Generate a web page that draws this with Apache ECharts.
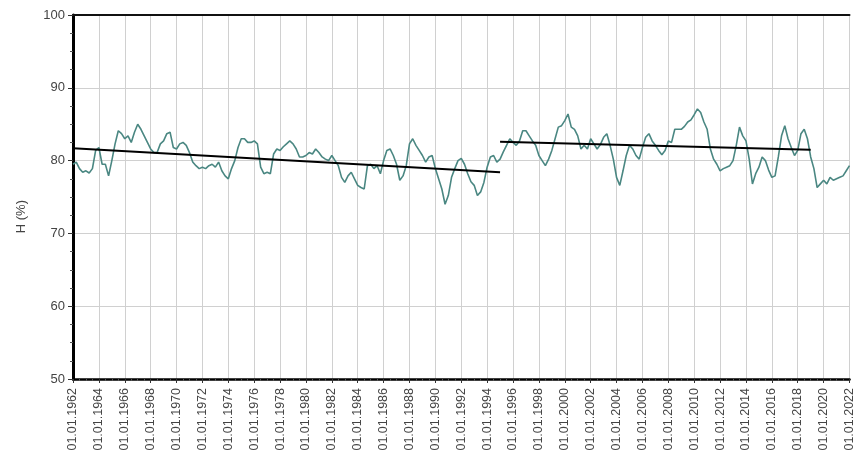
<!DOCTYPE html>
<html>
<head>
<meta charset="utf-8">
<script src="https://cdn.jsdelivr.net/npm/echarts@6/dist/echarts.min.js"></script>
<style>
  html, body { margin: 0; padding: 0; background: #fff; }
  #chart { width: 856px; height: 470px; }
</style>
</head>
<body>
<div id="chart"></div>
<script>
// Relative humidity H (%), 12-month moving average, one value per quarter from 01.01.1962
const startYear = 1962;
const stepYears = 0.25;
const humidity = [
  // 1962-1971
  79.5, 79.8, 78.9, 78.4, 78.6, 78.3, 78.9, 81.4, 81.8, 79.5, 79.5, 77.9,
  80.0, 82.3, 84.1, 83.7, 83.0, 83.4, 82.5, 83.9, 85.0, 84.3, 83.4, 82.5,
  81.6, 81.1, 81.1, 82.3, 82.7, 83.7, 83.9, 81.8, 81.6, 82.3, 82.5, 82.1,
  81.1, 79.8, 79.3, 78.9,
  // 1972-1981
  79.1, 78.9, 79.3, 79.5, 79.1, 79.8, 78.6, 77.9, 77.5, 78.9, 80.0, 81.8,
  83.0, 83.0, 82.5, 82.5, 82.7, 82.3, 79.1, 78.2, 78.4, 78.2, 80.9, 81.6,
  81.4, 81.9, 82.3, 82.7, 82.3, 81.6, 80.5, 80.5, 80.7, 81.1, 80.9, 81.6,
  81.1, 80.5, 80.2, 80.0,
  // 1982-1991
  80.7, 80.0, 79.3, 77.7, 77.0, 77.9, 78.4, 77.5, 76.6, 76.3, 76.1, 79.3,
  79.5, 78.9, 79.3, 78.2, 80.0, 81.4, 81.6, 80.7, 79.5, 77.3, 77.9, 79.3,
  82.3, 83.0, 82.1, 81.4, 80.7, 79.8, 80.5, 80.7, 78.9, 77.5, 76.1, 74.0,
  75.2, 77.7, 78.9, 80.0,
  // 1992-2001
  80.3, 79.5, 78.2, 77.1, 76.6, 75.2, 75.7, 77.0, 79.1, 80.5, 80.7, 79.8,
  80.2, 81.2, 82.1, 83.0, 82.5, 82.1, 82.7, 84.1, 84.1, 83.4, 82.7, 82.1,
  80.7, 80.0, 79.3, 80.2, 81.4, 83.0, 84.6, 84.8, 85.5, 86.4, 84.6, 84.3,
  83.4, 81.6, 82.1, 81.6,
  // 2002-2011
  83.0, 82.3, 81.6, 82.2, 83.2, 83.7, 82.1, 80.2, 77.7, 76.6, 78.6, 80.7,
  82.1, 81.6, 80.7, 80.2, 81.8, 83.2, 83.7, 82.7, 82.1, 81.4, 80.8, 81.4,
  82.7, 82.5, 84.3, 84.3, 84.3, 84.7, 85.3, 85.6, 86.3, 87.1, 86.6, 85.3,
  84.3, 81.6, 80.2, 79.5,
  // 2012-2022
  78.6, 78.9, 79.1, 79.3, 80.0, 82.1, 84.6, 83.4, 82.7, 80.2, 76.8, 78.2,
  79.1, 80.5, 80.0, 78.7, 77.7, 77.9, 80.5, 83.4, 84.8, 83.0, 81.8, 80.7,
  81.4, 83.7, 84.3, 83.0, 80.5, 78.9, 76.3, 76.8, 77.3, 76.8, 77.7, 77.3,
  77.5, 77.7, 77.9, 78.6, 79.3
];

// Linear trends before and after the 1995 break
const trendBefore = [[1962.0, 81.7], [1995.0, 78.4]];
const trendAfter = [[1995.0, 82.6], [2019.0, 81.5]];

// Axis ranges and tick spacing
const xMin = 1962, xMax = 2022, xStep = 2;
const yMin = 50, yMax = 100, yStep = 10;
const yTitle = 'H (%)';

const series = humidity.map((v, i) => [startYear + i * stepYears, v]);

const chart = echarts.init(document.getElementById('chart'), null, { renderer: 'canvas' });
const labelFont = { color: '#444', fontFamily: 'Liberation Sans, Arial, sans-serif' };

chart.setOption({
  animation: false,
  backgroundColor: '#ffffff',
  grid: { left: 73, right: 6, top: 15, bottom: 91 },
  xAxis: [{
    type: 'value',
    min: xMin, max: xMax, interval: xStep,
    axisLine: { show: true, onZero: false, lineStyle: { color: '#000', width: 2.5 } },
    axisTick: { show: true, length: 4, lineStyle: { color: '#333', width: 1 } },
    minorTick: { show: true, splitNumber: 4, length: 2, lineStyle: { color: '#555' } },
    axisLabel: Object.assign({
      rotate: 90, fontSize: 12.5, margin: 9,
      formatter: v => '01.01.' + v
    }, labelFont),
    splitLine: { show: true, lineStyle: { color: '#d0d0d0', width: 1 } }
  }, {
    type: 'value', position: 'top',
    min: xMin, max: xMax,
    axisLine: { show: true, onZero: false, lineStyle: { color: '#111', width: 2 } },
    axisTick: { show: false }, axisLabel: { show: false }, splitLine: { show: false }
  }],
  yAxis: {
    type: 'value',
    min: yMin, max: yMax, interval: yStep,
    axisLine: { show: true, onZero: false, lineStyle: { color: '#000', width: 3 } },
    axisTick: { show: true, length: 5, lineStyle: { color: '#333' } },
    minorTick: { show: true, splitNumber: 4, length: 3, lineStyle: { color: '#555' } },
    axisLabel: Object.assign({ fontSize: 13, margin: 8 }, labelFont),
    splitLine: { show: true, lineStyle: { color: '#d0d0d0', width: 1 } }
  },
  graphic: [{
    type: 'text',
    left: 15, top: 200,
    rotation: Math.PI / 2,
    style: { text: yTitle, fill: '#444', font: '13px Liberation Sans, Arial, sans-serif' }
  }],
  series: [{
    type: 'line',
    data: series,
    showSymbol: false,
    lineStyle: { color: '#4a8782', width: 1.6 },
    z: 2
  }, {
    type: 'line',
    data: trendBefore,
    showSymbol: false,
    lineStyle: { color: '#000', width: 2 },
    z: 3
  }, {
    type: 'line',
    data: trendAfter,
    showSymbol: false,
    lineStyle: { color: '#000', width: 2 },
    z: 3
  }]
});
</script>
</body>
</html>
